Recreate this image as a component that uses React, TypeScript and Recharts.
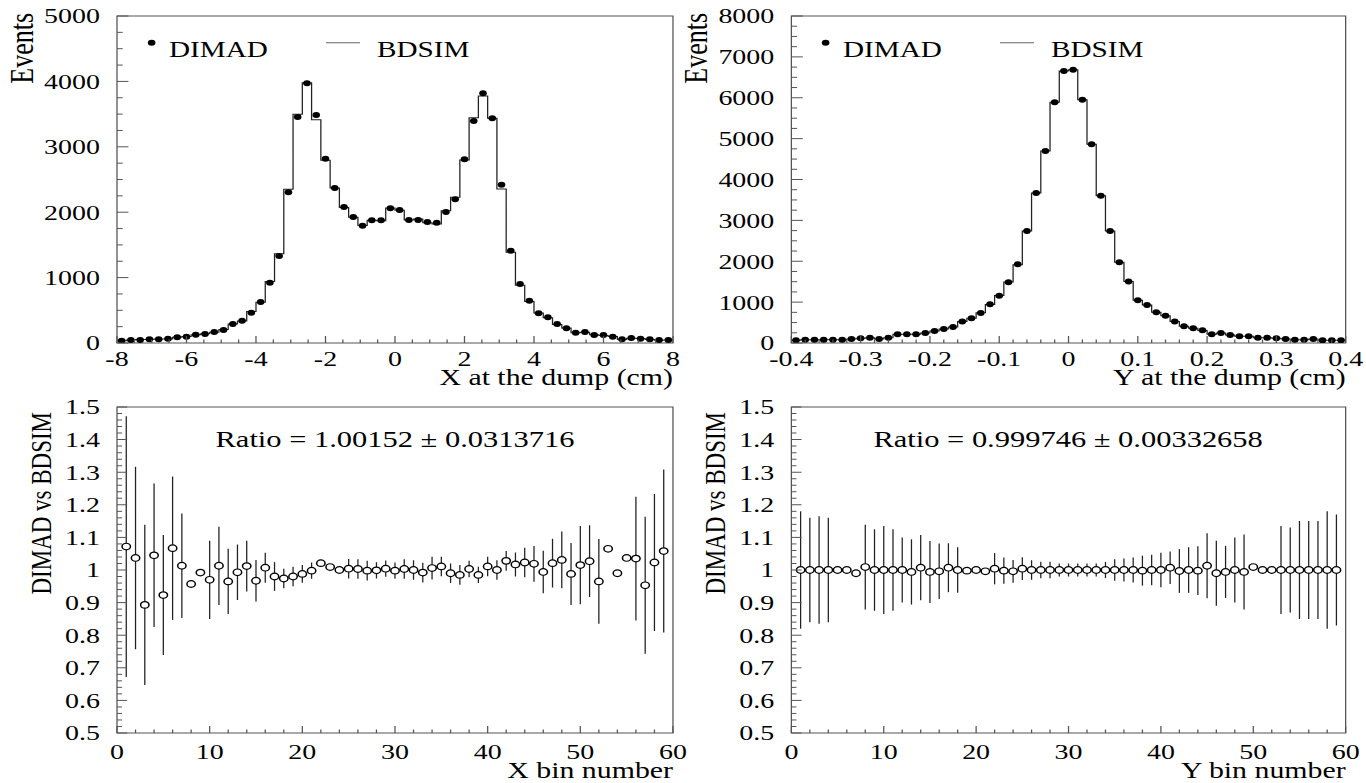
import React from "react";
import { ComposedChart, XAxis, YAxis, Line, Scatter, ErrorBar, ReferenceArea } from "recharts";

// the reference figure is stretched sideways, so the whole page is drawn narrow and scaled
const STRETCH = 1.27;
const FONT = "'Liberation Serif', 'DejaVu Serif', serif";
const FRAME = "#555";

// histograms: 60 bins each
const X_RANGE = [-8, 8];
const X_DIMAD = [
  35, 46, 46, 56, 56, 66, 87, 97, 127, 137, 168, 199, 290, 341, 464, 627, 922, 1330, 2304, 3456,
  3971, 3486, 2818, 2370, 2080, 1927, 1794, 1876, 1876, 2060, 2034, 1881, 1881, 1850, 1840, 2003, 2197, 2808, 3394, 3817,
  3435, 2421, 1412, 902, 647, 454, 393, 290, 225, 158, 168, 122, 122, 97, 56, 76, 66, 56, 46, 46,
];
const X_BDSIM = [
  33, 44, 52, 54, 61, 62, 86, 101, 128, 141, 166, 206, 292, 337, 480, 623, 941, 1366, 2351, 3498,
  3979, 3414, 2793, 2370, 2072, 1921, 1798, 1878, 1869, 2064, 2028, 1881, 1896, 1839, 1820, 2023, 2230, 2800, 3446, 3775,
  3435, 2355, 1388, 882, 635, 457, 385, 281, 228, 156, 164, 126, 115, 98, 54, 73, 69, 55, 43, 46,
];

const Y_RANGE = [-0.4, 0.4];
const Y_DIMAD = [
  66, 82, 82, 82, 82, 82, 98, 115, 131, 98, 131, 213, 213, 213, 245, 294, 343, 392, 523, 604,
  734, 947, 1159, 1485, 1925, 2740, 3670, 4697, 5889, 6654, 6688, 5954, 4861, 3605, 2740, 1974, 1502, 1045, 930, 751,
  669, 523, 408, 359, 310, 213, 245, 196, 164, 164, 131, 131, 115, 98, 82, 82, 98, 66, 66, 66,
];
const Y_BDSIM = [
  66, 82, 82, 82, 82, 82, 99, 114, 131, 98, 131, 213, 214, 211, 246, 295, 341, 392, 523, 604,
  737, 943, 1161, 1491, 1917, 2740, 3670, 4697, 5889, 6654, 6688, 5954, 4861, 3605, 2740, 1974, 1502, 1047, 930, 751,
  664, 525, 408, 360, 306, 215, 246, 196, 165, 163, 131, 131, 115, 98, 82, 82, 98, 66, 66, 66,
];

// ratios DIMAD / BDSIM per bin number 1..59
const X_RATIO = [
  1.072, 1.037, 0.893, 1.045, 0.923, 1.067, 1.013, 0.957, 0.992, 0.97, 1.013, 0.965, 0.993, 1.012, 0.967, 1.007, 0.98, 0.974, 0.98, 0.988,
  0.998, 1.021, 1.009, 1.0, 1.004, 1.003, 0.998, 0.999, 1.004, 0.998, 1.003, 1.0, 0.992, 1.006, 1.011, 0.99, 0.985, 1.003, 0.985, 1.011,
  1.0, 1.028, 1.017, 1.023, 1.019, 0.994, 1.021, 1.031, 0.988, 1.015, 1.027, 0.965, 1.065, 0.99, 1.037, 1.035, 0.953, 1.023, 1.058,
];
const X_RATIO_ERR = [
  0.4, 0.28, 0.246, 0.22, 0.184, 0.22, 0.16, 0, 0, 0.12, 0.12, 0.1, 0.085, 0.078, 0.064, 0.046, 0.044, 0.03, 0.03, 0.027,
  0.025, 0, 0, 0, 0.03, 0.03, 0.03, 0.025, 0.025, 0.025, 0.03, 0.03, 0.03, 0.035, 0.03, 0.03, 0.03, 0.025, 0.025, 0.03,
  0.03, 0.03, 0.037, 0.045, 0.055, 0.065, 0.075, 0.087, 0.095, 0.12, 0.11, 0.13, 0, 0, 0, 0.19, 0.21, 0.21, 0.25,
];
const Y_RATIO = [
  1.0, 1.0, 1.0, 1.0, 1.0, 1.0, 0.99, 1.009, 1.0, 1.0, 1.0, 1.0, 0.994, 1.007, 0.994, 0.996, 1.007, 1.0, 0.998, 1.0,
  0.996, 1.004, 0.998, 0.996, 1.004, 1.0, 1.0, 1.0, 1.0, 1.0, 1.0, 1.0, 1.0, 1.0, 1.0, 1.0, 1.0, 0.998, 1.0, 1.0,
  1.007, 0.997, 1.0, 0.998, 1.013, 0.99, 0.994, 1.0, 0.994, 1.009, 1.0, 1.0, 1.0, 1.0, 1.0, 1.0, 1.0, 1.0, 1.0,
];
const Y_RATIO_ERR = [
  0.18, 0.16, 0.165, 0.16, 0, 0, 0, 0.13, 0.125, 0.135, 0.125, 0.1, 0.1, 0.1, 0.095, 0.085, 0.075, 0.07, 0, 0,
  0, 0.048, 0.04, 0.035, 0.035, 0.03, 0.025, 0.025, 0.02, 0.02, 0.02, 0.02, 0.02, 0.025, 0.033, 0.035, 0.038, 0.046, 0.047, 0.053,
  0.05, 0.067, 0.07, 0.075, 0.1, 0.1, 0.08, 0.1, 0.115, 0, 0, 0, 0.135, 0.13, 0.15, 0.15, 0.15, 0.18, 0.17,
];

// axis tick labels
const X_TICKS = [-8, -6, -4, -2, 0, 2, 4, 6, 8];
const Y_TICKS = [-0.4, -0.3, -0.2, -0.1, 0, 0.1, 0.2, 0.3, 0.4];
const X_EVENT_TICKS = [0, 1000, 2000, 3000, 4000, 5000];
const Y_EVENT_TICKS = [0, 1000, 2000, 3000, 4000, 5000, 6000, 7000, 8000];
const RATIO_TICKS = [0.5, 0.6, 0.7, 0.8, 0.9, 1, 1.1, 1.2, 1.3, 1.4, 1.5];
const BIN_TICKS = [0, 10, 20, 30, 40, 50, 60];

// layout (unstretched px)
const PAGE_W = 1366 / STRETCH;
const YW = 117 / STRETCH;
const PW_L = (673 - 117) / STRETCH;
const PW_R = (1345.3 - 791) / STRETCH;
const RIGHT_LEFT = 791 / STRETCH - YW;
const MR = 20;

function withMinor(majors: number[], sub: number) {
  const out: number[] = [];
  for (let i = 0; i < majors.length - 1; i++) {
    for (let k = 0; k < sub; k++) out.push(+(majors[i] + ((majors[i + 1] - majors[i]) * k) / sub).toFixed(6));
  }
  out.push(majors[majors.length - 1]);
  return out;
}
const isMajor = (majors: number[], v: number) => majors.some((m) => Math.abs(m - v) < 1e-6);
const fmt = (v: number) => String(+v.toFixed(3));

function xTick(majors: number[], big: number, small: number, dy: number) {
  return (p: any) => {
    const v = p.payload.value;
    const mj = isMajor(majors, v);
    return (
      <g>
        <line x1={p.x} x2={p.x} y1={p.y} y2={p.y - (mj ? big : small)} stroke={FRAME} strokeWidth={1} />
        {mj && (
          <text x={p.x} y={p.y + dy} textAnchor="middle" fontFamily={FONT} fontSize={22} fill="#000">
            {fmt(v)}
          </text>
        )}
      </g>
    );
  };
}

function yTick(majors: number[], big: number, small: number) {
  return (p: any) => {
    const v = p.payload.value;
    const mj = isMajor(majors, v);
    return (
      <g>
        <line x1={p.x} x2={p.x + (mj ? big : small)} y1={p.y} y2={p.y} stroke={FRAME} strokeWidth={1} />
        {mj && (
          <text x={p.x - 13.5} y={p.y} dy="0.34em" textAnchor="end" fontFamily={FONT} fontSize={22} fill="#000">
            {fmt(v)}
          </text>
        )}
      </g>
    );
  };
}

const xTitle = (text: string, dy: number) => (p: any) => {
  const vb = p.viewBox;
  return (
    <text x={vb.x + vb.width} y={vb.y + dy} textAnchor="end" fontFamily={FONT} fontSize={23.5} fill="#000">
      {text}
    </text>
  );
};

const yTitle = (text: string, dx: number, dy: number, size: number) => (p: any) => {
  const vb = p.viewBox;
  const x = vb.x + dx;
  const y = vb.y + dy;
  return (
    <text x={x} y={y} transform={`rotate(-90 ${x} ${y})`} textAnchor="end" fontFamily={FONT} fontSize={size} fill="#000">
      {text}
    </text>
  );
};

const filledDot = (p: any) => <circle cx={p.cx} cy={p.cy} r={3} fill="#000" />;
const ring = (p: any) => <circle cx={p.cx} cy={p.cy} r={3.3} fill="#fff" stroke="#000" strokeWidth={1.2} />;
const blank = () => <g />;

function HistPanel(props: {
  left: number;
  width: number;
  range: number[];
  dimad: number[];
  bdsim: number[];
  xMajors: number[];
  xSub: number;
  yMajors: number[];
  title: string;
}) {
  const { left, width, range, dimad, bdsim, xMajors, xSub, yMajors, title } = props;
  const [lo, hi] = range;
  const n = dimad.length;
  const centers = dimad.map((v, i) => ({ x: lo + ((i + 0.5) * (hi - lo)) / n, y: v }));
  const steps = bdsim
    .map((v, i) => ({ x: lo + (i * (hi - lo)) / n, y: v }))
    .concat([{ x: hi, y: bdsim[n - 1] }]);
  const yMax = yMajors[yMajors.length - 1];
  return (
    <div style={{ position: "absolute", left, top: 0 }}>
      <ComposedChart width={width} height={393} margin={{ top: 16, right: MR, bottom: 0, left: 0 }}>
        <XAxis
          type="number"
          dataKey="x"
          domain={range}
          allowDataOverflow
          ticks={withMinor(xMajors, xSub)}
          interval={0}
          tickSize={0}
          tickMargin={0}
          axisLine={false}
          tickLine={false}
          height={50}
          tick={xTick(xMajors, 7, 3.5, 23)}
          label={xTitle(title, 42)}
        />
        <YAxis
          type="number"
          dataKey="y"
          domain={[0, yMax]}
          allowDataOverflow
          ticks={withMinor(yMajors, 4)}
          interval={0}
          tickSize={0}
          tickMargin={0}
          axisLine={false}
          tickLine={false}
          width={YW}
          tick={yTick(yMajors, 9, 4.5)}
          label={yTitle("Events", 26, -3, 26)}
        />
        <ReferenceArea x1={lo} x2={hi} y1={0} y2={yMax} fill="none" stroke={FRAME} strokeWidth={1} />
        <Line
          data={steps}
          dataKey="y"
          type="stepAfter"
          stroke="#222"
          strokeWidth={1}
          dot={false}
          activeDot={false}
          isAnimationActive={false}
        />
        <Scatter data={centers} dataKey="y" shape={filledDot} isAnimationActive={false} />
      </ComposedChart>
    </div>
  );
}

function RatioPanel(props: { left: number; width: number; ratio: number[]; err: number[]; title: string }) {
  const { left, width, ratio, err, title } = props;
  const pts = ratio.map((v, i) => ({ x: i + 1, y: v, err: err[i] }));
  return (
    <div style={{ position: "absolute", left, top: 391 }}>
      <ComposedChart width={width} height={392} margin={{ top: 16, right: MR, bottom: 0, left: 0 }}>
        <XAxis
          type="number"
          dataKey="x"
          domain={[0, 60]}
          allowDataOverflow
          ticks={withMinor(BIN_TICKS, 5)}
          interval={0}
          tickSize={0}
          tickMargin={0}
          axisLine={false}
          tickLine={false}
          height={50}
          tick={xTick(BIN_TICKS, 7, 3.5, 26)}
          label={xTitle(title, 45)}
        />
        <YAxis
          type="number"
          dataKey="y"
          domain={[0.5, 1.5]}
          allowDataOverflow
          ticks={withMinor(RATIO_TICKS, 5)}
          interval={0}
          tickSize={0}
          tickMargin={0}
          axisLine={false}
          tickLine={false}
          width={YW}
          tick={yTick(RATIO_TICKS, 8, 4)}
          label={yTitle("DIMAD vs BDSIM", 40, 5, 23)}
        />
        <ReferenceArea x1={0} x2={60} y1={0.5} y2={1.5} fill="none" stroke={FRAME} strokeWidth={1} />
        <Scatter data={pts} dataKey="y" shape={blank} isAnimationActive={false}>
          <ErrorBar dataKey="err" direction="y" width={0} stroke="#222" strokeWidth={1} />
        </Scatter>
        <Scatter data={pts} dataKey="y" shape={ring} isAnimationActive={false} />
      </ComposedChart>
    </div>
  );
}

function Legend({ dx }: { dx: number }) {
  return (
    <g fontFamily={FONT} fontSize={23} fill="#000">
      <circle cx={119.4 + dx} cy={42.7} r={3} fill="#000" />
      <text x={133.1 + dx} y={56.7}>DIMAD</text>
      <line x1={256.7 + dx} x2={283.5 + dx} y1={42.7} y2={42.7} stroke="#666" strokeWidth={1} />
      <text x={296.9 + dx} y={56.7}>BDSIM</text>
    </g>
  );
}

export default function App() {
  const leftW = YW + PW_L + MR;
  const rightW = YW + PW_R + MR;
  return (
    <div
      style={{
        position: "absolute",
        left: 0,
        top: 0,
        width: PAGE_W,
        height: 783,
        overflow: "hidden",
        transform: `scaleX(${STRETCH})`,
        transformOrigin: "0 0",
        background: "#fff",
      }}
    >
      <HistPanel
        left={0}
        width={leftW}
        range={X_RANGE}
        dimad={X_DIMAD}
        bdsim={X_BDSIM}
        xMajors={X_TICKS}
        xSub={4}
        yMajors={X_EVENT_TICKS}
        title="X at the dump (cm)"
      />
      <HistPanel
        left={RIGHT_LEFT}
        width={rightW}
        range={Y_RANGE}
        dimad={Y_DIMAD}
        bdsim={Y_BDSIM}
        xMajors={Y_TICKS}
        xSub={5}
        yMajors={Y_EVENT_TICKS}
        title="Y at the dump (cm)"
      />
      <RatioPanel left={0} width={leftW} ratio={X_RATIO} err={X_RATIO_ERR} title="X bin number" />
      <RatioPanel left={RIGHT_LEFT} width={rightW} ratio={Y_RATIO} err={Y_RATIO_ERR} title="Y bin number" />
      <svg width={PAGE_W} height={783} style={{ position: "absolute", left: 0, top: 0, pointerEvents: "none" }}>
        <Legend dx={0} />
        <Legend dx={RIGHT_LEFT} />
        <text x={YW + PW_L / 2} y={447} textAnchor="middle" fontFamily={FONT} fontSize={24} fill="#000">
          Ratio = 1.00152 ± 0.0313716
        </text>
        <text x={RIGHT_LEFT + YW + PW_R / 2} y={447} textAnchor="middle" fontFamily={FONT} fontSize={24} fill="#000">
          Ratio = 0.999746 ± 0.00332658
        </text>
      </svg>
    </div>
  );
}
